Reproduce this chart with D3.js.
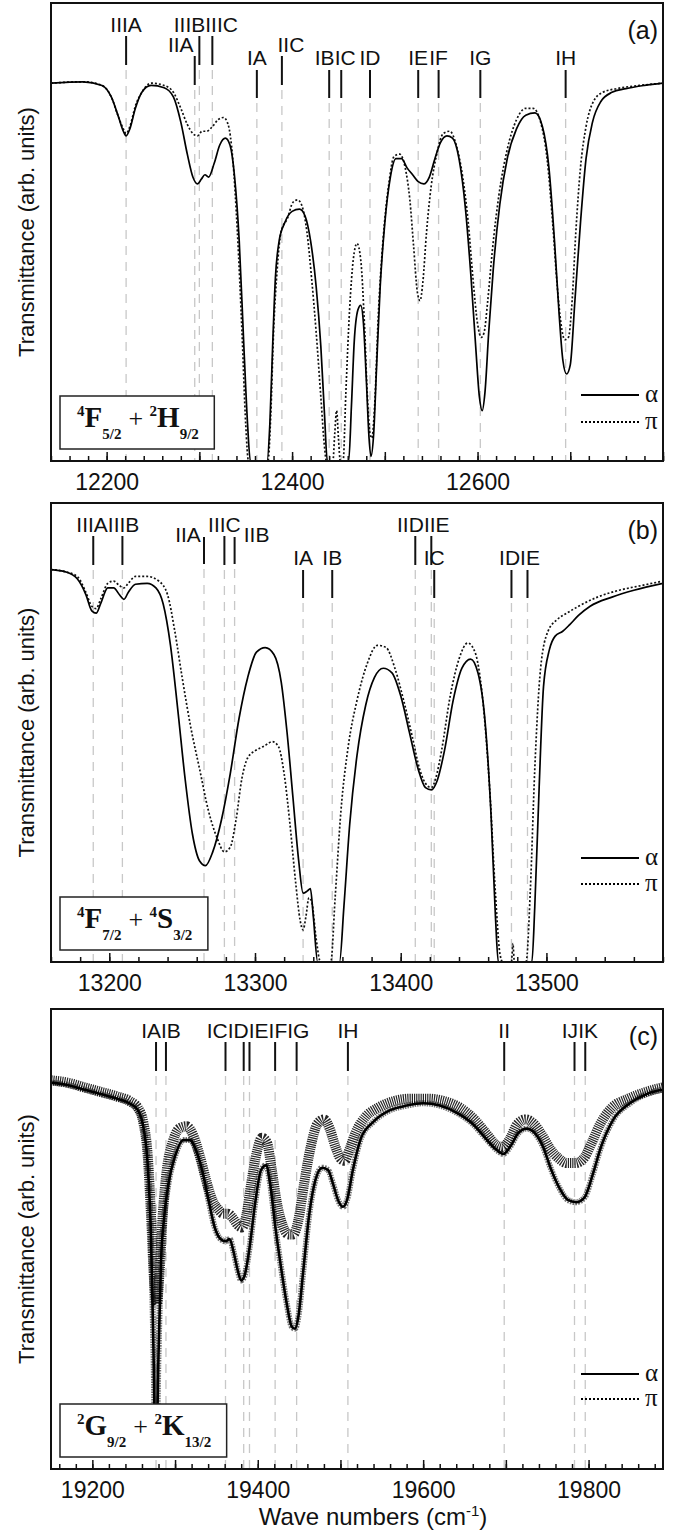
<!DOCTYPE html>
<html>
<head>
<meta charset="utf-8">
<script src="https://cdn.jsdelivr.net/npm/d3@7"></script>
<style>
body { margin: 0; background: #fff; }
svg { display: block; }
</style>
</head>
<body>
<div id="chart"></div>
<script>
// ---------------- data: panel (a) 4F5/2 + 2H9/2 ----------------
var aAlpha = [[12140,82.5],[12175,82.8],[12195,82],[12205,79.5],[12213,75],[12218,72],[12221,71],[12225,72.5],[12231,77],[12238,80.5],[12248,82],[12262,81.5],[12272,79.5],[12280,74],[12287,67],[12293,62],[12298,60.5],[12302,61.5],[12306,62.5],[12310,62],[12316,65],[12322,69],[12328,70.5],[12333,69],[12338,62],[12343,48],[12348,25],[12352,8],[12355,0],[12373,0],[12376,8],[12379,25],[12382,40],[12386,48],[12392,52],[12400,54.5],[12408,55],[12414,53.5],[12420,48],[12426,38],[12431,25],[12435,10],[12438,0],[12461,0],[12464,12],[12467,26],[12471,33],[12474,34],[12477,30],[12480,18],[12483,5],[12485,1],[12488,6],[12491,20],[12495,38],[12500,52],[12506,62],[12512,66],[12518,66],[12524,64],[12530,62.5],[12536,61],[12542,60.5],[12548,62],[12554,66],[12560,69.5],[12567,71],[12573,70.5],[12580,66],[12587,55],[12593,40],[12598,25],[12602,14],[12605,11],[12608,15],[12612,28],[12617,42],[12624,56],[12632,66],[12642,72.5],[12652,75.5],[12662,76],[12670,73],[12677,64],[12683,48],[12688,32],[12692,22],[12696,19],[12700,21],[12705,35],[12711,52],[12717,66],[12724,74],[12733,78.5],[12745,80.5],[12760,81.3],[12780,82],[12800,82.5]];
var aPi = [[12140,82.5],[12175,82.8],[12195,82],[12205,79.5],[12213,75],[12218,72.5],[12221,71.5],[12225,73],[12231,77.5],[12238,80.5],[12248,82.5],[12262,82],[12272,80.5],[12280,77],[12287,73.5],[12293,71.5],[12298,71],[12303,72],[12308,72],[12314,73],[12320,74.5],[12326,75],[12331,73.5],[12336,66],[12341,50],[12346,28],[12350,8],[12353,0],[12374,0],[12377,10],[12380,28],[12384,42],[12388,50],[12395,53],[12401,56.5],[12406,57],[12411,55.5],[12416,50],[12421,40],[12426,28],[12431,14],[12435,3],[12437,0],[12444,0],[12446,6],[12448,11],[12450,5],[12452,0],[12455,0],[12458,15],[12462,33],[12466,44],[12470,47.5],[12474,44],[12478,30],[12481,15],[12484,6],[12486,5],[12489,12],[12493,32],[12498,48],[12504,60],[12510,66.5],[12516,67],[12522,64],[12527,57],[12531,47],[12535,37],[12538,35],[12541,39],[12545,50],[12550,60],[12556,67],[12563,71.5],[12570,72],[12577,69],[12584,62],[12590,52],[12595,40],[12600,30],[12604,27],[12607,28],[12611,35],[12616,46],[12623,58],[12632,68],[12642,74.5],[12652,77],[12660,77],[12668,74],[12675,66],[12681,52],[12686,38],[12690,30],[12694,26.5],[12698,27],[12702,35],[12706,50],[12711,64],[12717,73],[12725,78.5],[12735,80.5],[12750,81.3],[12775,82],[12800,82.5]];
var aPeakNames = ["IIIA","IIIB","IIIC","IIA","IIC","IA","IB","IC","ID","IE","IF","IG","IH"];
var aPeakPos   = [12221,12300,12314,12295,12389,12362,12440,12453,12484,12536,12558,12603,12695];
var aPeakLevel = [0,0,0,1,1,2,2,2,2,2,2,2,2];
var aTerm = [["4","F","5/2"],["2","H","9/2"]];
var aTicks = [12200,12400,12600];

// ---------------- data: panel (b) 4F7/2 + 4S3/2 ----------------
var bAlpha = [[13160,85.5],[13170,85],[13178,83.5],[13184,80],[13188,76.5],[13191,76],[13194,78],[13199,81.5],[13203,81.5],[13207,80],[13210,79],[13213,80.5],[13218,82.3],[13226,82.5],[13232,81.5],[13237,78],[13242,69],[13247,55],[13252,40],[13257,28],[13262,22],[13266,21],[13271,24],[13277,31],[13283,41],[13289,53],[13295,62],[13301,67.5],[13307,68.5],[13313,67],[13318,61],[13322,50],[13326,36],[13330,22],[13333,15],[13336,15.5],[13338,16],[13340,10],[13343,0],[13358,0],[13361,12],[13365,30],[13370,45],[13376,56],[13382,62],[13388,64],[13394,63],[13400,58],[13406,50],[13412,42],[13417,38],[13421,37.5],[13425,39.5],[13430,46],[13436,57],[13442,64],[13448,66],[13453,63],[13458,52],[13462,32],[13465,10],[13467,0],[13490,0],[13492,12],[13495,38],[13498,60],[13502,68],[13506,71],[13511,72],[13516,73.5],[13522,75.5],[13530,77.5],[13545,79.5],[13560,81],[13580,82.5]];
var bPi = [[13160,85.5],[13170,85],[13178,84],[13184,80.5],[13188,77.5],[13191,77],[13194,79],[13199,82.5],[13203,83],[13207,82],[13210,81.5],[13213,82.5],[13218,84],[13226,84],[13234,83],[13240,80],[13245,72],[13250,62],[13256,51],[13262,42],[13268,33],[13274,27],[13279,24],[13283,25],[13287,31],[13291,40],[13295,44.5],[13300,46],[13306,47],[13312,48],[13316,47],[13320,41],[13324,30],[13328,17],[13331,9],[13333,7],[13335,10],[13337,14],[13339,13],[13342,5],[13345,0],[13352,0],[13355,14],[13359,33],[13364,47],[13370,57],[13377,65],[13384,69],[13390,68.5],[13396,64],[13402,57],[13408,49],[13413,42],[13418,38.5],[13421,38],[13424,40],[13428,46],[13434,58],[13440,66],[13446,69.5],[13451,67.5],[13456,58],[13461,38],[13465,15],[13468,2],[13470,0],[13476,0],[13477,4],[13478,0],[13486,0],[13489,16],[13492,42],[13496,64],[13501,72],[13507,74.5],[13514,76],[13522,77.5],[13535,79.5],[13550,81],[13565,82],[13580,83]];
var bPeakNames = ["IIIA","IIIB","IIA","IIIC","IIB","IA","IB","IID","IIE","IC","ID","IE"];
var bPeakPos   = [13189,13209,13265,13279,13286,13333,13353,13410,13421,13423,13476,13487];
var bPeakLevel = [0,0,3,0,3,2,2,0,0,2,2,2];
var bTerm = [["4","F","7/2"],["4","S","3/2"]];
var bTicks = [13200,13300,13400,13500];

// ---------------- data: panel (c) 2G9/2 + 2K13/2 ----------------
var cAlpha = [[19150,84],[19170,83.5],[19190,82.5],[19210,81.5],[19230,80.5],[19245,79.5],[19255,78],[19262,74],[19267,66],[19271,50],[19274,25],[19276,6],[19278,8],[19280,25],[19283,45],[19287,55],[19292,62],[19300,68],[19310,71.5],[19318,71.5],[19326,69],[19334,64],[19341,58],[19348,52.5],[19355,50],[19361,49.5],[19366,50],[19371,47],[19376,43],[19380,41],[19384,42],[19390,48],[19397,58],[19404,65],[19410,66],[19415,62],[19421,53],[19428,44],[19435,36],[19441,31],[19445,30.5],[19449,33],[19455,43],[19462,55],[19470,63],[19478,65.5],[19485,65],[19491,62],[19497,58.5],[19503,57],[19508,58.5],[19515,65],[19525,72],[19540,75.5],[19560,78],[19580,79],[19600,79.5],[19620,79],[19640,77.5],[19660,75],[19675,72],[19688,69.5],[19697,68.5],[19705,70],[19715,73],[19725,74],[19735,73],[19745,70],[19755,65],[19765,61],[19775,58.5],[19785,58],[19795,59],[19805,64],[19815,70],[19830,76],[19850,79.5],[19870,81.5],[19890,82.5]];
var cPi = [[19150,84.5],[19170,84],[19190,83],[19210,82],[19230,81],[19245,80],[19255,78.5],[19262,75],[19267,68],[19271,55],[19275,40],[19278,36],[19281,42],[19285,55],[19290,65],[19297,71],[19305,74],[19314,74.5],[19322,72.5],[19330,68],[19338,62.5],[19345,58.5],[19352,56.5],[19358,55.5],[19364,55.5],[19370,54.5],[19376,53],[19381,52.5],[19386,55],[19392,62],[19399,69],[19405,72],[19411,71],[19417,65],[19423,58],[19430,53],[19437,51],[19443,51],[19449,54],[19456,62],[19464,70],[19472,75],[19480,76],[19487,74],[19494,70],[19500,67.5],[19505,67],[19511,69.5],[19518,73],[19530,76.5],[19545,78.5],[19565,80],[19585,80.5],[19605,80.5],[19625,80],[19645,78.5],[19662,76],[19676,73],[19688,70.5],[19696,70],[19704,71.5],[19714,75],[19724,76],[19734,75],[19744,72.5],[19754,69.5],[19764,67.5],[19774,66.5],[19784,66.5],[19794,67.5],[19804,71],[19814,75],[19828,78.5],[19848,80.5],[19870,82],[19890,83]];
var cPeakNames = ["IA","IB","IC","ID","IE","IF","IG","IH","II","IJ","IK"];
var cPeakPos   = [19277,19289,19361,19383,19390,19421,19447,19509,19698,19783,19796];
var cPeakLevel = [0,0,0,0,0,0,0,0,0,0,0];
var cTerm = [["2","G","9/2"],["2","K","13/2"]];
var cTicks = [19200,19400,19600,19800];

var legendNames = ["\u03b1", "\u03c0"];

// ---------------- layout ----------------
var W = 686, H = 1535;
var left = 51, right = 663;
var levelText  = [29, 49, 62, 39];   // label baseline below panel top
var levelTick0 = [33, 53, 67, 34];
var levelTick1 = [62, 82, 95, 61];
// text offsets for labels that sit beside their tick instead of above it
var aPeakDx = [null,null,null,-14,9,null,null,null,null,null,null,null,null];
var bPeakDx = [null,null,-16,null,22,null,null,null,null,null,null,null];
var cPeakDx = cPeakNames.map(function(){ return null; });

var panels = [
    {id:"a", dom:[12140,12800], top:3,    h:458, alpha:aAlpha, pi:aPi, names:aPeakNames, pos:aPeakPos, lvl:aPeakLevel, dx:aPeakDx, term:aTerm, ticks:aTicks, noisy:false, leg:[66,39]},
    {id:"b", dom:[13160,13580], top:503,  h:459, alpha:bAlpha, pi:bPi, names:bPeakNames, pos:bPeakPos, lvl:bPeakLevel, dx:bPeakDx, term:bTerm, ticks:bTicks, noisy:false, leg:[104,78]},
    {id:"c", dom:[19150,19890], top:1009, h:460, alpha:cAlpha, pi:cPi, names:cPeakNames, pos:cPeakPos, lvl:cPeakLevel, dx:cPeakDx, term:cTerm, ticks:cTicks, noisy:true, leg:[95,70]}
];

var svg = d3.select("#chart").append("svg")
    .attr("width", W)
    .attr("height", H);

var sans = "'Liberation Sans', Arial, sans-serif";
var serif = "'Liberation Serif', 'Times New Roman', serif";

panels.forEach(drawPanel);

// x axis title
var xt = svg.append("text")
    .attr("x", 373)
    .attr("y", 1525)
    .attr("text-anchor", "middle")
    .style("font-family", sans)
    .style("font-size", "24px")
    .attr("fill", "#111");
xt.append("tspan").text("Wave numbers (cm");
xt.append("tspan").attr("dy", -9).style("font-size", "15px").text("-1");
xt.append("tspan").attr("dy", 9).text(")");

function drawPanel(p) {
    var g = svg.append("g").attr("transform", "translate(0," + p.top + ")");

    var x = d3.scaleLinear().domain(p.dom).range([left, right]);
    var y = d3.scaleLinear().domain([0, 100]).range([p.h, 0]);

    g.append("clipPath")
        .attr("id", "clip-" + p.id)
        .append("rect")
        .attr("x", left)
        .attr("y", 0)
        .attr("width", right - left)
        .attr("height", p.h);

    // y axis title
    g.append("text")
        .attr("transform", "translate(34," + (p.h / 2) + ") rotate(-90)")
        .attr("text-anchor", "middle")
        .style("font-family", sans)
        .style("font-size", "22px")
        .attr("fill", "#111")
        .text("Transmittance (arb. units)");

    // peak labels: measure, then pack per level so neighbours don't overlap
    var items = p.names.map(function(n, i) {
        return {name: n, x: x(p.pos[i]), lvl: p.lvl[i], dx: p.dx[i]};
    });
    var meas = g.append("text").style("font-family", sans).style("font-size", "21px");
    items.forEach(function(d) { d.w = meas.text(d.name).node().getComputedTextLength(); });
    meas.remove();

    d3.range(4).forEach(function(lv) {
        var row = items.filter(function(d) { return d.lvl === lv && d.dx === null; })
            .sort(function(a, b) { return a.x - b.x; });
        packLabels(row);
    });
    items.forEach(function(d) { if (d.dx !== null) d.tx = d.x + d.dx; });

    // dashed grey guides
    g.append("g").selectAll("line")
        .data(items)
        .enter().append("line")
        .attr("x1", function(d) { return d.x; })
        .attr("x2", function(d) { return d.x; })
        .attr("y1", function(d) { return levelTick1[d.lvl] + 5; })
        .attr("y2", p.h)
        .attr("stroke", "#c8c8c8")
        .attr("stroke-width", 1.3)
        .attr("stroke-dasharray", "9,7");

    // spectra
    var line = d3.line()
        .x(function(d) { return x(d[0]); })
        .y(function(d) { return y(d[1]); })
        .curve(d3.curveMonotoneX);

    var curves = g.append("g").attr("clip-path", "url(#clip-" + p.id + ")");
    if (p.noisy) {
        // panel (c) is a noisy measurement: draw both traces as dark speckled bands
        curves.append("path").datum(p.pi)
            .attr("d", line).attr("fill", "none")
            .attr("stroke", "#000").attr("stroke-width", 10)
            .attr("stroke-dasharray", "1.2,1").attr("opacity", 0.85);
        curves.append("path").datum(p.alpha)
            .attr("d", line).attr("fill", "none")
            .attr("stroke", "#000").attr("stroke-width", 6)
            .attr("stroke-dasharray", "1.5,1").attr("opacity", 0.55);
        curves.append("path").datum(p.alpha)
            .attr("d", line).attr("fill", "none")
            .attr("stroke", "#000").attr("stroke-width", 2.6);
    } else {
        curves.append("path").datum(p.pi)
            .attr("d", line).attr("fill", "none")
            .attr("stroke", "#111").attr("stroke-width", 1.7)
            .attr("stroke-dasharray", "2,2");
        curves.append("path").datum(p.alpha)
            .attr("d", line).attr("fill", "none")
            .attr("stroke", "#000").attr("stroke-width", 1.7);
    }

    // label ticks and text
    var lab = g.append("g");
    lab.selectAll("line")
        .data(items)
        .enter().append("line")
        .attr("x1", function(d) { return d.x; })
        .attr("x2", function(d) { return d.x; })
        .attr("y1", function(d) { return levelTick0[d.lvl]; })
        .attr("y2", function(d) { return levelTick1[d.lvl]; })
        .attr("stroke", "#111")
        .attr("stroke-width", 2);
    lab.selectAll("text")
        .data(items)
        .enter().append("text")
        .attr("x", function(d) { return d.tx; })
        .attr("y", function(d) { return levelText[d.lvl]; })
        .attr("text-anchor", "middle")
        .style("font-family", sans)
        .style("font-size", "21px")
        .attr("fill", "#111")
        .text(function(d) { return d.name; });

    // panel letter
    g.append("text")
        .attr("x", 658)
        .attr("y", 36)
        .attr("text-anchor", "end")
        .style("font-family", sans)
        .style("font-size", "25px")
        .attr("fill", "#111")
        .text("(" + p.id + ")");

    // bottom axis: minor every 20, major every 100, ticks pointing inward
    var minorVals = d3.range(Math.ceil(p.dom[0] / 20) * 20, p.dom[1] + 1, 20);
    var majorVals = d3.range(Math.ceil(p.dom[0] / 100) * 100, p.dom[1] + 1, 100);
    var ax = g.append("g").attr("transform", "translate(0," + p.h + ")");
    ax.append("g")
        .call(d3.axisBottom(x).tickValues(minorVals).tickSizeInner(-5).tickSizeOuter(0).tickFormat(""))
        .call(function(s) { s.select(".domain").remove(); s.selectAll("text").remove(); })
        .selectAll("line").attr("stroke", "#111").attr("stroke-width", 1.5);
    var major = ax.append("g")
        .call(d3.axisBottom(x).tickValues(majorVals).tickSizeInner(-9).tickSizeOuter(0).tickPadding(13)
            .tickFormat(d3.format("d")))
        .call(function(s) { s.select(".domain").remove(); });
    major.selectAll("line").attr("stroke", "#111").attr("stroke-width", 1.5);
    major.selectAll("text")
        .filter(function(v) { return p.ticks.indexOf(v) < 0; })
        .remove();
    major.selectAll("text")
        .style("font-family", sans)
        .style("font-size", "23px")
        .attr("fill", "#111");

    // frame
    g.append("rect")
        .attr("x", left)
        .attr("y", 0)
        .attr("width", right - left)
        .attr("height", p.h)
        .attr("fill", "none")
        .attr("stroke", "#111")
        .attr("stroke-width", 2);

    // term box
    var boxBottom = p.h - 12, boxH = 53;
    var tg = g.append("g");
    var box = tg.append("rect")
        .attr("x", 60)
        .attr("y", boxBottom - boxH)
        .attr("height", boxH)
        .attr("fill", "#fff")
        .attr("stroke", "#222")
        .attr("stroke-width", 1.5);
    var tt = tg.append("text")
        .attr("x", 77)
        .attr("y", boxBottom - 22)
        .style("font-family", serif)
        .style("font-weight", "bold")
        .style("font-size", "29px")
        .attr("fill", "#111");
    p.term.forEach(function(t, i) {
        if (i > 0) tt.append("tspan").style("font-weight", "normal").style("font-size", "26px").text("\u00a0+\u00a0");
        tt.append("tspan").attr("dy", -11).style("font-size", "15px").text(t[0]);
        tt.append("tspan").attr("dy", 11).text(t[1]);
        tt.append("tspan").attr("dy", 12).style("font-size", "15px").text(t[2]);
        tt.append("tspan").attr("dy", -12).style("font-size", "2px").text("\u00a0");
    });
    box.attr("width", tt.node().getBBox().width + 32);

    // legend
    var lg = g.append("g");
    var ly = [p.h - p.leg[0], p.h - p.leg[1]];
    lg.append("line").attr("x1", 581).attr("x2", 639).attr("y1", ly[0]).attr("y2", ly[0])
        .attr("stroke", "#000").attr("stroke-width", 2);
    lg.append("line").attr("x1", 581).attr("x2", 639).attr("y1", ly[1]).attr("y2", ly[1])
        .attr("stroke", "#000").attr("stroke-width", 2).attr("stroke-dasharray", "2,2");
    lg.selectAll("text")
        .data(legendNames)
        .enter().append("text")
        .attr("x", 645)
        .attr("y", function(d, i) { return ly[i] + 7; })
        .style("font-family", serif)
        .style("font-size", "25px")
        .attr("fill", "#111")
        .text(function(d) { return d; });
}

function packLabels(row) {
    var groups = row.map(function(d) { return {members: [d], center: d.x, width: d.w}; });
    var merged = true;
    while (merged) {
        merged = false;
        for (var k = 0; k < groups.length - 1; k++) {
            var a = groups[k], b = groups[k + 1];
            if (a.center + a.width / 2 > b.center - b.width / 2) {
                var m = a.members.concat(b.members);
                groups.splice(k, 2, {members: m, center: d3.mean(m, function(d) { return d.x; }), width: a.width + b.width});
                merged = true;
                break;
            }
        }
    }
    groups.forEach(function(gp) {
        var s = gp.center - gp.width / 2;
        gp.members.forEach(function(d) { d.tx = s + d.w / 2; s += d.w; });
    });
}
</script>
</body>
</html>
